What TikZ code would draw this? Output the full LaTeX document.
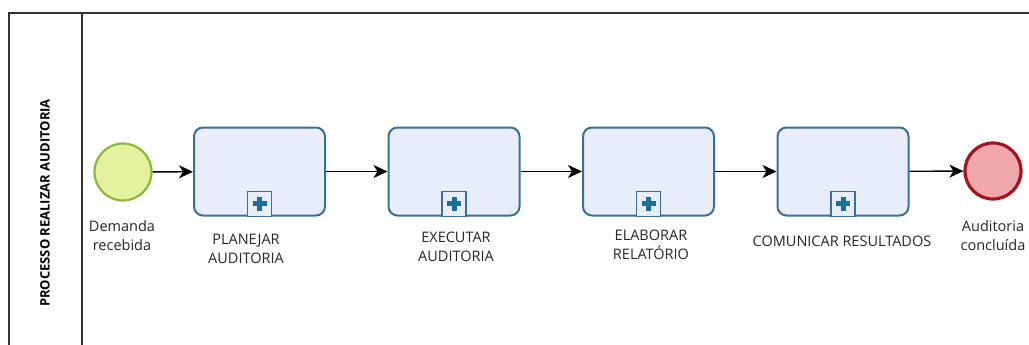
\documentclass[tikz,border=0pt]{standalone}
\usepackage{fontspec}
\setmainfont{Open Sans}
\usetikzlibrary{arrows.meta}
\definecolor{startfill}{HTML}{E4F2A0}
\definecolor{startdraw}{HTML}{8CB83C}
\definecolor{taskfill}{HTML}{E8EEF9}
\definecolor{taskdraw}{HTML}{3B6F96}
\definecolor{endfill}{HTML}{EFA7AC}
\definecolor{enddraw}{HTML}{A3141F}
\definecolor{plusc}{HTML}{1E6E9C}
\tikzset{
  startev/.style={circle, draw=startdraw, fill=startfill, line width=2.2pt, minimum size=57pt, inner sep=0pt},
  endev/.style={circle, draw=enddraw, fill=endfill, line width=3.2pt, minimum size=56pt, inner sep=0pt},
  subproc/.style={draw=taskdraw, fill=taskfill, line width=2pt, rounded corners=9pt, minimum width=131pt, minimum height=88pt, inner sep=0pt},
  flow/.style={line width=1.4pt, -{Stealth[length=14pt,width=13pt,inset=4pt]}},
  lbl/.style={font=\fontsize{14.5pt}{19pt}\selectfont, align=center, inner sep=0pt, text=black!85},
  frame/.style={line width=1.1pt, draw=black!80}
}
\newcommand{\plusmark}[1]{%
  \draw[draw=taskdraw, line width=1.8pt, fill=taskfill] ([xshift=-12pt]#1.south) rectangle ([xshift=12pt,yshift=25pt]#1.south);
  \fill[plusc] ([xshift=-2.5pt,yshift=6pt]#1.south) rectangle ([xshift=2.5pt,yshift=20pt]#1.south);
  \fill[plusc] ([xshift=-7pt,yshift=10.5pt]#1.south) rectangle ([xshift=7pt,yshift=15.5pt]#1.south);
}
\begin{document}
\begin{tikzpicture}[x=1pt,y=-1pt]
\useasboundingbox (0,0) rectangle (1029,345);
\draw[frame] (9,345) -- (9,13) -- (1029,13);
\draw[frame] (82,13) -- (82,345);
\node[rotate=90, font=\bfseries\fontsize{13pt}{15pt}\selectfont, inner sep=0pt] (title) at (45,203) {PROCESSO REALIZAR AUDITORIA};

\node[startev] (start) at (123,172) {};
\node[subproc] (t1) at (259.5,171.5) {};
\node[subproc] (t2) at (454,171.5) {};
\node[subproc] (t3) at (648.5,171.5) {};
\node[subproc] (t4) at (843,171.5) {};
\node[endev] (end) at (993,171) {};

\plusmark{t1}
\plusmark{t2}
\plusmark{t3}
\plusmark{t4}

\draw[flow] (start) -- (t1);
\draw[flow] (t1) -- (t2);
\draw[flow] (t2) -- (t3);
\draw[flow] (t3) -- (t4);
\draw[flow] (t4) -- (end);

\node[lbl] (l0) at (122,236) {Demanda\\recebida};
\node[lbl] (l1) at (246,249) {PLANEJAR\\AUDITORIA};
\node[lbl] (l2) at (456,247) {EXECUTAR\\AUDITORIA};
\node[lbl] (l3) at (651,245) {ELABORAR\\RELATÓRIO};
\node[lbl] (l4) at (842,241) {COMUNICAR RESULTADOS};
\node[lbl] (l5) at (993,236) {Auditoria\\concluída};
\end{tikzpicture}
\end{document}
